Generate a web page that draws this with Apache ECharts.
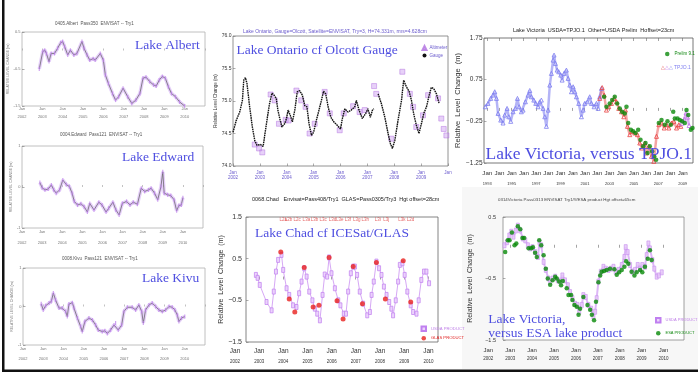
<!DOCTYPE html>
<html><head><meta charset="utf-8">
<script src="https://cdn.jsdelivr.net/npm/echarts@6.0.0/dist/echarts.min.js"></script>
<style>html,body{margin:0;padding:0;background:#fff}#c{width:698px;height:375px}</style>
</head><body><div id="c"></div><script>
// ---------------- DATA ----------------
const albertYears = [2002.85,2003.02,2003.12,2003.2,2003.33,2003.43,2003.6,2003.75,2003.9,2004.0,2004.1,2004.25,2004.38,2004.55,2004.7,2004.95,2005.05,2005.2,2005.33,2005.5,2005.6,2005.85,2006.0,2006.1,2006.25,2006.45,2006.6,2006.75,2006.97,2007.2,2007.4,2007.6,2007.8,2007.95,2008.1,2008.28,2008.47,2008.6,2008.75,2008.9,2009.05,2009.2,2009.35,2009.55,2009.75,2010.0];
const albertLevels = [-0.5,-0.03,0.01,-0.08,-0.3,-0.08,-0.08,0.06,0.21,0.24,0.1,-0.12,0.01,-0.12,-0.08,0.24,0.06,-0.12,-0.26,-0.22,-0.26,-0.08,-0.26,-0.66,-0.89,-1.16,-1.34,-1.25,-1.02,-1.25,-1.43,-1.34,-1.16,-0.75,-0.72,-0.84,-0.93,-0.96,-0.8,-0.7,-0.75,-0.98,-1.16,-1.25,-1.39,-1.5];

const edwardYears = [2002.89,2003.0,2003.14,2003.3,2003.46,2003.58,2003.7,2003.87,2004.03,2004.2,2004.36,2004.49,2004.6,2004.76,2004.93,2005.09,2005.25,2005.37,2005.58,2005.82,2005.98,2006.18,2006.31,2006.52,2006.67,2006.83,2006.99,2007.2,2007.37,2007.53,2007.74,2007.93,2008.1,2008.29,2008.42,2008.59,2008.75,2008.91,2009.0,2009.07,2009.24,2009.4,2009.56,2009.69,2009.8,2009.92,2010.0];
const edwardLevels = [0.11,-0.02,-0.07,-0.05,0.05,-0.07,-0.15,-0.07,0.17,0.06,0.01,-0.15,-0.35,-0.44,-0.41,-0.48,-0.61,-0.4,-0.56,-0.37,-0.44,-0.61,-0.52,-0.37,-0.56,-0.68,-0.4,-0.35,-0.44,-0.37,-0.42,-0.03,-0.11,-0.07,-0.03,-0.15,-0.31,0.01,0.37,-0.15,-0.19,-0.21,-0.31,-0.58,-0.45,-0.44,-0.26];

const kivuYears = [2002.9,2003.0,2003.12,2003.29,2003.4,2003.5,2003.61,2003.78,2003.94,2004.11,2004.19,2004.27,2004.44,2004.52,2004.69,2004.85,2004.93,2005.06,2005.26,2005.43,2005.59,2005.72,2005.92,2006.05,2006.17,2006.33,2006.5,2006.58,2006.71,2006.88,2006.99,2007.16,2007.4,2007.57,2007.73,2007.87,2007.95,2008.06,2008.23,2008.39,2008.56,2008.72,2008.89,2009.05,2009.22,2009.38,2009.51,2009.63,2009.71,2009.84,2010.0];
const kivuLevels = [0.07,-0.09,0.02,0.09,0.13,0.35,0.17,-0.04,-0.04,-0.13,-0.26,0.06,0.1,-0.04,-0.3,-0.52,-0.65,-0.39,-0.3,-0.35,-0.48,-0.61,-0.65,-0.63,-0.7,-0.61,-0.48,-0.43,-0.61,-0.48,-0.13,-0.02,-0.02,-0.09,0.04,-0.13,-0.43,-0.09,0.04,0.09,0.0,-0.09,-0.13,-0.09,0.0,-0.02,-0.09,-0.22,-0.39,-0.3,-0.26];

const ontarioGaugeYears = [2002.0,2002.12,2002.25,2002.35,2002.4,2002.46,2002.52,2002.62,2002.72,2002.81,2002.89,2003.02,2003.12,2003.18,2003.28,2003.36,2003.45,2003.53,2003.61,2003.67,2003.74,2003.82,2003.92,2003.99,2004.05,2004.13,2004.21,2004.3,2004.39,2004.48,2004.58,2004.67,2004.75,2004.83,2004.92,2005.0,2005.1,2005.2,2005.29,2005.37,2005.45,2005.54,2005.64,2005.75,2005.87,2006.0,2006.07,2006.16,2006.28,2006.4,2006.53,2006.59,2006.69,2006.81,2006.94,2007.02,2007.11,2007.19,2007.24,2007.32,2007.4,2007.52,2007.65,2007.77,2007.86,2007.93,2008.02,2008.14,2008.27,2008.35,2008.45,2008.55,2008.64,2008.72,2008.82,2008.92,2009.01,2009.1,2009.2,2009.3,2009.38,2009.47,2009.57,2009.67];
const ontarioGaugeLevels = [74.52,74.70,74.83,75.01,75.32,75.36,75.27,74.91,74.6,74.39,74.32,74.33,74.3,74.29,74.75,74.96,75.12,75.09,75.04,74.86,74.73,74.6,74.65,74.73,74.86,74.78,74.68,74.86,75.14,75.16,75.09,74.93,74.91,74.65,74.47,74.52,74.7,74.86,75.01,75.15,75.11,74.91,74.75,74.68,74.63,74.57,74.73,74.88,74.83,74.86,74.91,75.01,74.86,74.73,74.81,74.88,74.75,74.86,74.88,null,75.11,74.96,74.75,74.5,74.34,74.27,74.39,74.7,75.01,75.32,75.22,75.15,75.01,74.81,74.63,74.5,74.65,74.81,74.91,75.09,75.21,75.19,75.11,74.96];
const ontarioAltYears = [2002.81,2002.97,2003.09,2003.4,2003.55,2003.71,2003.96,2004.07,2004.36,2004.54,2004.7,2004.85,2005.04,2005.41,2005.6,2005.97,2006.12,2006.47,2006.71,2006.9,2007.25,2007.33,2007.89,2008.3,2008.58,2008.7,2008.82,2009.07,2009.26,2009.63,2009.75,2009.84,2009.94];
const ontarioAltLevels = [74.33,74.27,74.21,75.1,75.01,74.65,74.71,74.7,75.16,75.01,74.91,74.5,74.65,75.14,74.81,74.55,74.81,74.92,74.83,74.86,75.23,75.11,74.42,75.45,75.11,74.91,74.6,74.78,75.09,75.04,74.73,74.57,74.47];

const chadUsdaYears = [2002.87,2002.94,2003.03,2003.31,2003.52,2003.61,2003.7,2003.79,2003.93,2004.0,2004.14,2004.25,2004.41,2004.55,2004.66,2004.76,2004.87,2004.97,2005.08,2005.21,2005.31,2005.41,2005.52,2005.63,2005.72,2005.82,2005.9,2006.0,2006.14,2006.28,2006.37,2006.51,2006.6,2006.69,2006.8,2006.9,2006.97,2007.06,2007.17,2007.31,2007.48,2007.59,2007.66,2007.75,2007.86,2007.97,2008.07,2008.17,2008.28,2008.39,2008.48,2008.55,2008.66,2008.76,2008.83,2008.94,2009.03,2009.14,2009.28,2009.38,2009.52,2009.61,2009.72,2009.83,2009.93,2010.04];
const chadUsdaLevels = [0.11,0.04,-0.13,-0.54,-0.74,-0.29,0.19,0.47,0.59,0.23,-0.21,-0.37,-0.62,-0.66,-0.33,-0.05,0.27,0.07,-0.29,-0.5,-0.7,-0.82,-0.98,-0.37,0.12,0.07,0.53,0.15,-0.21,-0.5,-0.62,-0.82,-0.82,-0.29,0.15,0.31,0.31,0.11,-0.29,-0.58,-0.86,-0.78,-0.37,-0.05,0.43,0.27,0.11,-0.17,-0.37,-0.54,-0.7,-0.86,-0.5,-0.05,0.35,0.39,0.11,-0.29,-0.62,-0.78,-0.82,-0.5,-0.01,0.19,0.19,-0.09];
const chadGlasYears = [2003.9,2004.25,2004.48,2004.87,2005.24,2005.48,2005.9,2006.23,2006.48,2006.9,2007.28,2007.86,2008.23,2008.97,2009.28];
const chadGlasLevels = [0.66,-0.47,-0.78,0.29,-0.66,-0.62,0.53,-0.51,-0.95,0.31,-0.58,0.41,-0.47,0.45,-0.54];
const chadCampaignNames = ['L2a','L2b L2c','L3a','L3b L3c','L3d','L3e L3f','L3g','L3h','L3i','L3j','L3k L2d'];
const chadCampaignYears = [2004.0,2004.4,2004.96,2005.47,2006.04,2006.5,2007.05,2007.4,2007.92,2008.27,2009.1];

const vicTpjoYears = [1992.86,1993.08,1993.3,1993.49,1993.63,1993.77,1993.9,1994.12,1994.31,1994.45,1994.64,1994.78,1994.94,1995.13,1995.32,1995.49,1995.62,1995.81,1995.95,1996.14,1996.36,1996.5,1996.63,1996.83,1996.99,1997.18,1997.32,1997.45,1997.59,1997.73,1997.86,1998.0,1998.14,1998.27,1998.41,1998.49,1998.6,1998.74,1998.87,1999.04,1999.15,1999.31,1999.5,1999.64,1999.78,1999.91,2000.05,2000.19,2000.32,2000.51,2000.73,2000.87,2001.0,2001.22,2001.41,2001.55,2001.77,2001.96,2002.1,2002.23,2002.37];
const vicTpjoLevels = [0.10,0.18,0.30,0.38,0.46,0.30,-0.06,-0.22,-0.29,-0.10,0.06,-0.14,-0.25,-0.02,0.06,0.30,0.10,-0.02,0.02,0.22,0.38,0.49,0.34,0.26,0.18,0.10,0.22,0.26,0.06,-0.14,-0.37,0.02,0.62,0.90,1.22,1.34,1.14,0.98,0.94,0.86,0.74,0.90,0.98,0.78,0.62,0.46,0.58,0.46,0.34,0.18,-0.14,0.02,0.18,0.22,0.34,0.18,0.10,0.18,0.06,0.34,0.54];
const vicOtherYears = [2002.23,2002.43,2002.59,2002.78,2002.97,2003.19,2003.41,2003.6,2003.79,2004.01,2004.2,2004.34,2004.5,2004.69,2004.89,2005.1,2005.32,2005.51,2005.7,2005.92,2006.06,2006.25,2006.47,2006.66,2006.88,2007.07,2007.29,2007.51,2007.7,2007.89,2008.11,2008.3,2008.52,2008.71,2008.87];
const vicOtherLevels = [0.30,0.56,0.38,0.02,0.10,0.18,0.30,0.22,0.06,-0.02,-0.14,0.02,-0.37,-0.57,-0.49,-0.53,-0.57,-0.77,-0.89,-0.77,-1.01,-0.85,-1.09,-1.21,-0.61,-0.33,-0.29,-0.41,-0.33,-0.41,-0.29,-0.25,-0.41,-0.33,-0.37];
const vicLateYears = [2008.95,2009.15,2009.3,2009.42,2009.55];
const vicLateLevels = [-0.3,-0.2,-0.05,-0.15,-0.35];
const vicPrelimYears = [2002.59,2002.78,2003.05,2003.25,2003.46,2003.66,2003.87,2004.07,2004.28,2004.42,2004.56,2004.78,2004.97,2005.16,2005.38,2005.57,2005.79,2005.98,2006.14,2006.33,2006.52,2006.69,2006.85,2007.07,2007.29,2007.56,2007.78,2008.05,2008.25,2008.38,2008.6,2008.79,2008.98,2009.2,2009.34,2009.48,2009.69,2009.83];
const vicPrelimLevels = [0.34,0.10,0.18,0.26,0.34,0.18,0.06,-0.02,-0.06,0.10,-0.29,-0.45,-0.49,-0.53,-0.45,-0.69,-0.85,-0.77,-1.01,-0.85,-0.97,-1.09,-1.17,-0.29,-0.22,-0.33,-0.25,-0.33,-0.02,-0.18,-0.18,-0.22,-0.25,-0.29,0.02,-0.10,-0.45,-0.41];

const esaUsdaYears = [2002.73,2002.84,2002.95,2003.04,2003.14,2003.25,2003.34,2003.45,2003.57,2003.68,2003.8,2003.91,2004.01,2004.13,2004.26,2004.33,2004.41,2004.52,2004.62,2004.74,2004.82,2004.93,2005.05,2005.17,2005.28,2005.38,2005.5,2005.63,2005.73,2005.84,2005.96,2006.07,2006.15,2006.27,2006.34,2006.45,2006.57,2006.7,2006.8,2006.88,2006.95,2007.03,2007.14,2007.26,2007.37,2007.49,2007.61,2007.72,2007.82,2007.95,2008.1,2008.22,2008.28,2008.37,2008.48,2008.59,2008.71,2008.83,2008.94,2009.04,2009.16,2009.24,2009.32,2009.39,2009.5,2009.59,2009.7,2009.8,2009.93];
const esaUsdaLevels = [0.04,0.09,0.2,0.26,0.18,0.28,0.36,0.28,0.15,0.12,0.04,-0.01,0.01,-0.07,-0.15,0.09,0.04,-0.23,-0.36,-0.5,-0.55,-0.5,-0.47,-0.53,-0.55,-0.45,-0.53,-0.61,-0.72,-0.82,-0.91,-0.93,-1.04,-0.93,-0.77,-0.8,-0.93,-0.99,-1.12,-1.04,-0.82,-0.55,-0.39,-0.31,-0.34,-0.36,-0.34,-0.31,-0.39,-0.36,-0.28,-0.15,0.01,-0.07,-0.28,-0.39,-0.36,-0.28,-0.34,-0.28,-0.31,-0.12,0.07,-0.01,-0.2,-0.34,-0.47,-0.45,-0.4];
const esaProductYears = [2002.76,2002.88,2002.96,2003.07,2003.19,2003.27,2003.34,2003.45,2003.55,2003.63,2003.83,2003.95,2004.03,2004.13,2004.21,2004.32,2004.41,2004.52,2004.62,2004.71,2004.82,2004.93,2005.05,2005.12,2005.23,2005.32,2005.4,2005.58,2005.66,2005.78,2005.84,2005.93,2006.04,2006.12,2006.19,2006.34,2006.53,2006.65,2006.73,2006.83,2006.92,2007.03,2007.11,2007.18,2007.29,2007.41,2007.56,2007.76,2007.87,2007.98,2008.1,2008.22,2008.3,2008.4,2008.55,2008.68,2008.78,2008.94,2009.04,2009.16,2009.29,2009.39,2009.47];
const esaProductLevels = [-0.07,0.12,0.12,0.25,0.04,0.07,0.35,0.3,0.16,0.16,-0.01,-0.01,0.01,-0.08,-0.15,0.12,0.04,-0.12,-0.34,-0.5,-0.6,-0.53,-0.47,-0.5,-0.55,-0.61,-0.54,-0.66,-0.77,-0.77,-0.85,-0.93,-0.96,-1.09,-0.99,-0.8,-0.93,-1.01,-1.09,-1.18,-0.88,-0.56,-0.45,-0.39,-0.38,-0.36,-0.34,-0.35,-0.44,-0.4,-0.36,-0.31,-0.22,-0.26,-0.39,-0.45,-0.4,-0.36,-0.4,-0.31,-0.18,-0.04,-0.2];

const chadTickYears = [2003,2004,2005,2006,2007,2008,2009,2010];
const vicTickYears = [1993,1994,1995,1996,1997,1998,1999,2000,2001,2002,2003,2004,2005,2006,2007,2008,2009];
const esaTickYears = [2003,2004,2005,2006,2007,2008,2009,2010];

// ---------------- HELPERS ----------------
function pts(xs, ys){ const n=Math.min(xs.length, ys.length); const o=[]; for(let i=0;i<n;i++) o.push([xs[i], ys[i]===null?'-':ys[i]]); return o; }
const SANS = '"Liberation Sans", Arial, sans-serif';
const SERIF = '"Liberation Serif", "Times New Roman", serif';
const BLUE = '#4f4fe0';
const isInt = v => Math.abs(v - Math.round(v)) < 1e-6;
const minus = s => String(s).replace('-', '\u2212');

function janAxis(grid, min, max, margin, fa, fb, lha, lhb, color, yearFn){
  return { type:'value', gridIndex:grid, min, max, interval:1,
    axisLine:{show:false}, splitLine:{show:false}, axisTick:{show:false},
    axisLabel:{ margin, showMaxLabel:true, showMinLabel:true, fontFamily:SANS,
      formatter: v => { if(!isInt(v)) return ''; const y = yearFn(Math.round(v)); return '{a|Jan}\n{b|' + (y===''?' ':y) + '}'; },
      rich:{ a:{fontSize:fa, lineHeight:lha, color, fontFamily:SANS}, b:{fontSize:fb, lineHeight:lhb, color, fontFamily:SANS} } } };
}
function leftX(grid, lha, lhb){
  const ax = janAxis(grid, 2002, 2011, 1, 4, 4, lha, lhb, '#777', y => y);
  ax.axisLabel.formatter = v => (!isInt(v) || v>2010.5) ? '' : '{a|Jan}\n{b|' + Math.round(v) + '}';
  ax.axisTick = {show:true, inside:true, length:2, lineStyle:{color:'#999', width:0.6}};
  return ax;
}
function yAx(grid, min, max, interval, labelFs, margin, name, nameFs, nameGap, color, fmt){
  return { type:'value', gridIndex:grid, min, max, interval,
    axisLine:{show:false}, splitLine:{show:false},
    axisTick:{inside:true, length:2.5, lineStyle:{color:'#777', width:0.6}},
    axisLabel:{fontSize:labelFs, margin, color, fontFamily:SANS, formatter: fmt || (v => String(v))},
    name, nameLocation:'middle', nameGap, nameRotate:90,
    nameTextStyle:{fontSize:nameFs, color, fontFamily:SANS} };
}
function dataTicksX(grid, min, max, ticks, pos){
  return { type:'value', gridIndex:grid, min, max, position: pos || 'bottom',
    axisLine:{show:false}, splitLine:{show:false}, axisLabel:{show:false},
    axisTick:{show:true, inside:true, length:3, customValues:ticks, lineStyle:{color:'#666', width:0.6}} };
}
const hiddenY = g => ({type:'value', gridIndex:g, min:0, max:1, show:false});

function leftSeries(xi, years, levels){
  const d = pts(years, levels);
  return [
    {type:'line', xAxisIndex:xi, yAxisIndex:xi, data:d, symbol:'none', silent:true,
     lineStyle:{color:'rgba(212,175,245,0.6)', width:3.5}},
    {type:'line', xAxisIndex:xi, yAxisIndex:xi, data:d, symbol:'rect', symbolSize:[1.2,4],
     itemStyle:{color:'rgba(190,130,235,0.75)'}, lineStyle:{color:'#5a5a5a', width:0.7}}
  ];
}

// ---------------- CHART ----------------
const chart = echarts.init(document.getElementById('c'), null, {renderer:'canvas'});
const gridBox = (l,t,w,h,c) => ({left:l, top:t, width:w, height:h, show:true, borderColor:c, borderWidth:0.8, backgroundColor:'#fff'});

const option = {
  animation:false,
  backgroundColor:'#fff',
  grid:[
    gridBox(22,32,183,74,'#b0b0b0'),
    gridBox(22,146,181,82,'#b0b0b0'),
    gridBox(23,268,182,77,'#b0b0b0'),
    gridBox(233,36,215,130,'#777'),
    gridBox(246,217,192,125,'#666'),
    {left:235, top:217, width:203.3, height:125, show:false},
    gridBox(484,38,209,125,'#555'),
    {left:487.3, top:38, width:195.4, height:125, show:false},
    gridBox(503,217,181,123,'#888'),
    {left:488.3, top:217, width:196, height:123, show:false}
  ],
  xAxis:[
    leftX(0, 4, 12),
    leftX(1, 6, 16.6),
    leftX(2, 6, 14.6),
    Object.assign(janAxis(3, 2002, 2010, 3, 4.5, 4.5, 7, 4, '#6a5acd', y => y===2010 ? '' : y),
      {axisTick:{show:true, inside:true, length:2.5, lineStyle:{color:'#777', width:0.6}}}),
    dataTicksX(4, 2002.46, 2010.41, chadTickYears),
    janAxis(5, 2002, 2010.41, 5, 6.5, 4.5, 8, 14, '#333', y => y),
    dataTicksX(6, 1992.75, 2009.87, vicTickYears),
    dataTicksX(6, 1992.75, 2009.87, vicTickYears, 'top'),
    janAxis(7, 1993, 2009, 6, 6.2, 4, 8, 13.4, '#333', y => (y % 2 === 1) ? y : ''),
    dataTicksX(8, 2002.66, 2010.95, esaTickYears),
    janAxis(9, 2002, 2010.95, 7, 6, 4.5, 7.4, 7.8, '#333', y => y)
  ],
  yAxis:[
    yAx(0, -1.5, 0.5, 1, 4, 1.5, 'RELATIVE LEVEL CHANGE (m)', 3.5, 8.5, '#777'),
    yAx(1, -1, 1, 1, 4, 1.5, 'RELATIVE LEVEL CHANGE (m)', 3.5, 7, '#777'),
    yAx(2, -1, 1, 1, 4, 1.5, 'RELATIVE LEVEL CHANGE (m)', 3.5, 6, '#777'),
    yAx(3, 74, 76, 0.5, 5, 1.5, 'Relative Level Change (m)', 4.5, 9, '#333', v => v.toFixed(1)),
    yAx(4, -1.5, 1.5, 1, 7, 4, 'Relative  Level  Change  (m)', 7, 20.5, '#333', v => minus(v.toFixed(1))),
    hiddenY(5),
    yAx(6, -1.25, 1.75, 1, 6.5, 1.5, 'Relative  Level  Change  (m)', 7.5, 19.5, '#333', v => minus(v.toFixed(2))),
    hiddenY(7),
    yAx(8, -1.5, 0.5, 1, 5.5, 7, 'Relative  Level  Change  (m)', 7, 29.5, '#333', v => minus(v.toFixed(1))),
    hiddenY(9)
  ],
  title:[
    {text:'0405.Albert  Pass350  ENVISAT -- Try1', left:55, top:21.5, padding:0, textStyle:{fontSize:4.5, color:'#555', fontWeight:'normal', fontFamily:SANS}},
    {text:'0004.Edward  Pass121  ENVISAT -- Try1', left:60, top:132.5, padding:0, textStyle:{fontSize:4.5, color:'#555', fontWeight:'normal', fontFamily:SANS}},
    {text:'0008.Kivu  Pass121  ENVISAT -- Try1', left:62, top:256, padding:0, textStyle:{fontSize:4.5, color:'#555', fontWeight:'normal', fontFamily:SANS}},
    {text:'Lake Ontario, Gauge=Olcott, Satellite=ENVISAT, Try=3, H=74.331m, rms=4.628cm', left:243, top:29.3, padding:0, textStyle:{fontSize:5, color:'#6a5acd', fontWeight:'normal', fontFamily:SANS}},
    {text:'0068.Chad   Envisat=Pass408/Try1  GLAS=Pass0305/Try3  Hgt offset=28cm', left:252, top:196.8, padding:0, textStyle:{fontSize:5.5, color:'#222', fontWeight:'normal', fontFamily:SANS}},
    {text:'Lake Victoria  USDA=TPJO.1  Other=USDA Prelim  Hoffset=23cm', left:513, top:27.8, padding:0, textStyle:{fontSize:5.5, color:'#222', fontWeight:'normal', fontFamily:SANS}},
    {text:'0314Victoria Pass0313 ENVISAT Try1////ESA product Hgt offset=65cm', left:498, top:197.8, padding:0, textStyle:{fontSize:4.4, color:'#444', fontWeight:'normal', fontFamily:SANS}},
    {text:'{r|\u25B3}{p|\u25B3}{b|\u25B3 TPJO.1}', left:660.5, top:65.5, padding:0, textStyle:{fontWeight:'normal', rich:{
      r:{color:'#e04848', fontSize:5, fontFamily:SANS}, p:{color:'#c070e8', fontSize:5, fontFamily:SANS}, b:{color:'#8080f0', fontSize:5, fontFamily:SANS}}}}
  ],
  legend:[
    {orient:'vertical', left:421.5, top:45, padding:0, itemGap:2, itemWidth:4, itemHeight:4, textStyle:{fontSize:4.5, fontFamily:SANS, padding:[0,0,0,-2]},
     data:[{name:'Altimeter', icon:'triangle', textStyle:{color:'#6a5acd'}}, {name:'Gauge', icon:'circle', textStyle:{color:'#6a5acd'}}]},
    {orient:'vertical', left:420.5, top:325.5, padding:0, itemGap:4, itemWidth:4.5, itemHeight:4.5, textStyle:{fontSize:4.2, fontFamily:SANS},
     data:[{name:'USDA PRODUCT', icon:'rect', textStyle:{color:'#c080e8'}}, {name:'GLAS PRODUCT', icon:'circle', textStyle:{color:'#e02020'}}]},
    {orient:'vertical', left:665, top:51.5, padding:0, itemWidth:4.5, itemHeight:4.5, textStyle:{fontSize:4.5, fontFamily:SANS},
     data:[{name:'Prelim 9.1', icon:'circle', textStyle:{color:'#118811'}}]},
    {orient:'vertical', left:655, top:317, padding:0, itemGap:7.5, itemWidth:4.5, itemHeight:4.5, textStyle:{fontSize:4, fontFamily:SANS},
     data:[{name:'USDA PRODUCT', icon:'rect', textStyle:{color:'#c080e8'}}, {name:'ESA PRODUCT', icon:'circle', textStyle:{color:'#118811'}}]}
  ],
  graphic:[
    {type:'rect', shape:{x:462, y:187, width:236, height:182}, style:{fill:'#f7f7f7'}, z:-10, silent:true},
    {type:'rect', shape:{x:2, y:0, width:2.5, height:372}, style:{fill:'#111'}, z:100, silent:true},
    {type:'rect', shape:{x:2, y:369.5, width:696, height:2.5}, style:{fill:'#111'}, z:100, silent:true},
    {type:'text', left:135, top:38, z:50, style:{text:'Lake Albert', font:'13.5px ' + SERIF, fill:BLUE}},
    {type:'text', left:122, top:150.3, z:50, style:{text:'Lake Edward', font:'13.5px ' + SERIF, fill:BLUE}},
    {type:'text', left:142, top:271.3, z:50, style:{text:'Lake Kivu', font:'13.5px ' + SERIF, fill:BLUE}},
    {type:'text', left:236.5, top:43, z:50, style:{text:'Lake Ontario cf Olcott Gauge', font:'13.5px ' + SERIF, fill:BLUE}},
    {type:'text', left:255, top:226.3, z:50, style:{text:'Lake Chad cf ICESat/GLAS', font:'13.5px ' + SERIF, fill:BLUE}},
    {type:'text', left:485.5, top:145.3, z:50, style:{text:'Lake Victoria, versus TPJO.1', font:'17.5px ' + SERIF, fill:BLUE}},
    {type:'text', left:488.3, top:312.6, z:50, style:{text:'Lake Victoria,\nversus ESA lake product', font:'13.5px ' + SERIF, lineHeight:14, fill:BLUE}}
  ],
  series:[
    ...leftSeries(0, albertYears, albertLevels),
    ...leftSeries(1, edwardYears, edwardLevels),
    ...leftSeries(2, kivuYears, kivuLevels),
    {name:'Gauge', type:'line', xAxisIndex:3, yAxisIndex:3, data:pts(ontarioGaugeYears, ontarioGaugeLevels), connectNulls:false,
     symbol:'none', itemStyle:{color:'#111'}, lineStyle:{color:'#111', width:1.4, type:[1.6,0.7]}},
    {name:'Altimeter', type:'scatter', xAxisIndex:3, yAxisIndex:3, data:pts(ontarioAltYears, ontarioAltLevels),
     symbol:'rect', symbolSize:5, itemStyle:{color:'rgba(200,150,240,0.55)', borderColor:'#b070e0', borderWidth:0.6}},
    {name:'USDA PRODUCT', type:'line', xAxisIndex:4, yAxisIndex:4, data:pts(chadUsdaYears, chadUsdaLevels),
     symbol:'rect', symbolSize:[3,5], itemStyle:{color:'rgba(235,210,252,0.95)', borderColor:'#c080f0', borderWidth:0.7},
     lineStyle:{color:'#d6a8f5', width:1}},
    {name:'GLAS PRODUCT', type:'scatter', xAxisIndex:4, yAxisIndex:4, data:pts(chadGlasYears, chadGlasLevels),
     symbol:'circle', symbolSize:5, itemStyle:{color:'#e8201e'}, z:5},
    {name:'campaigns', type:'scatter', xAxisIndex:4, yAxisIndex:4, silent:true,
     data:chadCampaignYears.map(y => [y, 1.44]), symbolSize:0,
     label:{show:true, position:'inside', formatter:p => chadCampaignNames[p.dataIndex], fontSize:4.5, color:'#e04040', fontFamily:SANS}},
    {name:'TPJO.1', type:'line', xAxisIndex:6, yAxisIndex:6, data:pts(vicTpjoYears, vicTpjoLevels),
     symbol:'triangle', symbolSize:4, itemStyle:{color:'rgba(255,255,255,0.2)', borderColor:'#7b7bf0', borderWidth:0.8},
     lineStyle:{color:'rgba(130,130,240,0.6)', width:2.5}},
    {name:'TPJO.1 other', type:'line', xAxisIndex:6, yAxisIndex:6, data:pts(vicOtherYears, vicOtherLevels),
     symbol:'triangle', symbolSize:4, itemStyle:{color:'rgba(255,255,255,0.2)', borderColor:'#e84040', borderWidth:0.8},
     lineStyle:{color:'rgba(235,90,90,0.55)', width:2.5}},
    {name:'TPJO.1 late', type:'line', xAxisIndex:6, yAxisIndex:6, data:pts(vicLateYears, vicLateLevels),
     symbol:'triangle', symbolSize:4, itemStyle:{color:'rgba(255,255,255,0.2)', borderColor:'#c070e8', borderWidth:0.8},
     lineStyle:{color:'rgba(200,120,235,0.6)', width:2.5}},
    {name:'Prelim 9.1', type:'scatter', xAxisIndex:6, yAxisIndex:6, data:pts(vicPrelimYears, vicPrelimLevels),
     symbol:'circle', symbolSize:4.5, itemStyle:{color:'#0b8a0b'}, z:5},
    {name:'USDA PRODUCT', type:'line', xAxisIndex:9, yAxisIndex:8, data:pts(esaUsdaYears, esaUsdaLevels),
     symbol:'rect', symbolSize:[3,5], itemStyle:{color:'rgba(230,200,248,0.85)', borderColor:'#c890ef', borderWidth:0.6},
     lineStyle:{color:'rgba(215,170,245,0.85)', width:2}},
    {name:'ESA PRODUCT', type:'scatter', xAxisIndex:9, yAxisIndex:8, data:pts(esaProductYears, esaProductLevels),
     symbol:'circle', symbolSize:4.5, itemStyle:{color:'#078a07'}, z:5}
  ]
};
chart.setOption(option);
</script></body></html>
